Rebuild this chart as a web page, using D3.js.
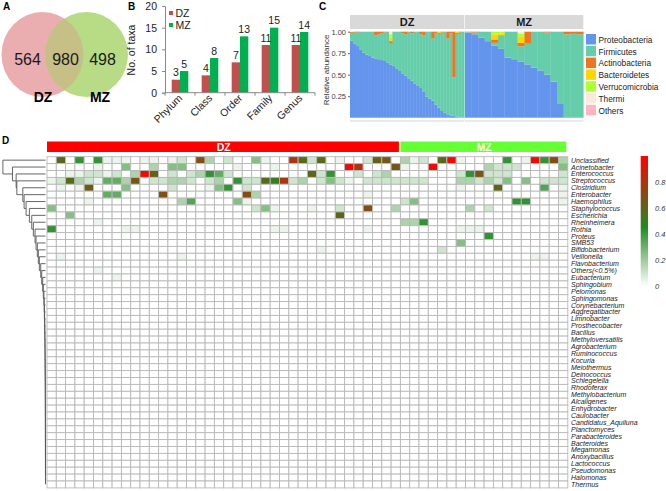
<!DOCTYPE html>
<html><head><meta charset="utf-8">
<script src="https://cdn.jsdelivr.net/npm/d3@7"></script>
<style>body{margin:0;background:#fff} svg{display:block;font-family:"Liberation Sans",Arial,sans-serif}</style>
</head><body><svg id="c" width="666" height="491"></svg>
<script>
// ---------- DATA ----------
const vennSets = ["DZ", "MZ"];
const vennCounts = [564, 980, 498]; // DZ only, shared, MZ only

const taxLevels = ["Phylum", "Class", "Order", "Family", "Genus"];
const taxaDZ = [3, 4, 7, 11, 11];
const taxaMZ = [5, 8, 13, 15, 14];
const taxaTicks = [0, 5, 10, 15, 20];

const phyla = ["Proteobacteria", "Firmicutes", "Actinobacteria", "Bacteroidetes", "Verrucomicrobia", "Thermi", "Others"];
const abundTicks = [0.25, 0.5, 0.75, 1.0];
const dzProteo = [0.895,0.864,0.833,0.795,0.756,0.733,0.717,0.70,0.69,0.68,0.67,0.66,0.643,0.62,0.60,0.574,0.543,0.515,0.49,0.457,0.43,0.40,0.37,0.345,0.30,0.245,0.22,0.198,0.155,0.116,0.078,0.058,0.039,0.027,0.019,0.012,0.004,0.0];
const dzFirm = [0.09,0.136,0.157,0.205,0.244,0.267,0.283,0.30,0.27,0.29,0.31,0.33,0.357,0.24,0.40,0.426,0.457,0.465,0.48,0.543,0.55,0.60,0.63,0.625,0.66,0.755,0.78,0.722,0.825,0.859,0.912,0.942,0.881,0.953,0.451,0.963,0.986,1.0];
const dzActino = [0.01,0,0.01,0,0,0,0,0,0.04,0.03,0.02,0.01,0,0.03,0,0,0,0.02,0.03,0,0.02,0,0,0.03,0.04,0,0,0.08,0.02,0.01,0.01,0,0.08,0.02,0.53,0.01,0.01,0];
const dzBact = [0.005,0,0,0,0,0,0,0,0,0,0,0,0,0.04,0,0,0,0,0,0,0,0,0,0,0,0,0,0,0,0.015,0,0,0,0,0,0.015,0,0];
const dzVerru = [0,0,0,0,0,0,0,0,0,0,0,0,0,0.04,0,0,0,0,0,0,0,0,0,0,0,0,0,0,0,0,0,0,0,0,0,0,0,0];
const dzThermi = [0,0,0,0,0,0,0,0,0,0,0,0,0,0.03,0,0,0,0,0,0,0,0,0,0,0,0,0,0,0,0,0,0,0,0,0,0,0,0];
const dzOthers = [0,0,0,0,0,0,0,0,0,0,0,0,0,0,0,0,0,0,0,0,0,0,0,0,0,0,0,0,0,0,0,0,0,0,0,0,0,0];
const mzProteo = [0.99,0.97,0.93,0.89,0.84,0.80,0.70,0.68,0.65,0.62,0.58,0.55,0.50,0.42,0.16,0,0,0];
const mzFirm = [0.005,0.02,0.07,0.11,0.03,0.16,0.30,0.32,0.18,0.24,0.42,0.45,0.49,0.58,0.84,0.97,0.975,0.97];
const mzActino = [0.005,0.01,0,0,0.04,0,0,0,0.04,0.14,0,0,0.01,0,0,0.03,0.025,0.03];
const mzBact = [0,0,0,0,0.06,0.02,0,0,0.07,0,0,0,0,0,0,0,0,0];
const mzVerru = [0,0,0,0,0.03,0.02,0,0,0.04,0,0,0,0,0,0,0,0,0];
const mzThermi = [0,0,0,0,0,0,0,0,0.02,0,0,0,0,0,0,0,0,0];
const mzOthers = [0,0,0,0,0,0,0,0,0,0,0,0,0,0,0,0,0,0];

const genera = ["Unclassified","Acinetobacter","Enterococcus","Streptococcus","Clostridium","Enterobacter","Haemophilus","Staphylococcus","Escherichia","Rheinheimera","Rothia","Proteus","SMB53","Bifidobacterium","Veillonella","Flavobacterium","Others(<0.5%)","Eubacterium","Sphingobium","Pelomonas","Sphingomonas","Corynebacterium","Aggregatibacter","Limnobacter","Prosthecobacter","Bacillus","Methyloversatilis","Agrobacterium","Ruminococcus","Kocuria","Meiothermus","Deinococcus","Schlegelella","Rhodoferax","Methylobacterium","Alcaligenes","Enhydrobacter","Caulobacter","Candidatus_Aquiluna","Planctomyces","Parabacteroides","Bacteroides","Megamonas","Anoxybacillus","Lactococcus","Pseudomonas","Halomonas","Thermus"];
const nDZ = 38, nMZ = 18;
// [genus row, sample column, relative abundance]; all other cells are 0
const heatCells = [
[0,1,.58],[0,3,.42],[0,5,.42],[0,6,.04],[0,7,.04],[0,8,.04],[0,10,.04],[0,11,.04],[0,13,.04],[0,14,.1],[0,16,.7],[0,17,.17],[0,19,.1],[0,22,.25],[0,23,.04],[0,26,.8],[0,27,.58],[0,28,.1],[0,29,.58],[0,31,.04],[0,34,.1],[0,35,.62],[0,36,.66],[0,38,.17],[0,39,.04],[0,40,.1],[0,42,.58],[0,43,.97],[0,44,.04],[0,49,.42],[0,51,.04],[0,52,.97],[0,53,.42],[0,54,.7],[0,55,.17],
[1,5,.04],[1,8,.25],[1,11,.17],[1,13,.25],[1,14,.25],[1,20,.04],[1,24,.04],[1,32,.97],[1,33,.8],[1,37,.66],[1,38,.04],[1,41,.97],[1,47,.17],[1,48,.1],[1,49,.1],[1,50,.1],[1,55,.25],
[2,2,.04],[2,3,.04],[2,4,.1],[2,5,.1],[2,6,.04],[2,7,.1],[2,9,.17],[2,10,.97],[2,11,.62],[2,13,.1],[2,15,.1],[2,16,.17],[2,17,.42],[2,18,.32],[2,19,.1],[2,28,.6],[2,29,.1],[2,30,.42],[2,33,.1],[2,35,.1],[2,36,.17],[2,44,.1],[2,45,.42],[2,46,.66],[2,47,.1],[2,48,.1],[2,49,.1],[2,55,.1],
[3,0,.04],[3,1,.1],[3,2,.58],[3,3,.17],[3,4,.1],[3,5,.04],[3,6,.32],[3,7,.32],[3,8,.17],[3,9,.66],[3,11,.1],[3,12,.1],[3,13,.17],[3,14,.17],[3,15,.1],[3,17,.1],[3,18,.17],[3,20,.42],[3,21,.1],[3,22,.1],[3,23,.58],[3,24,.5],[3,25,.8],[3,26,.1],[3,27,.17],[3,29,.1],[3,30,.25],[3,31,.1],[3,32,.04],[3,34,.1],[3,35,.1],[3,36,.1],[3,37,.1],[3,38,.1],[3,39,.1],[3,40,.1],[3,44,.17],[3,45,.17],[3,46,.1],[3,47,.17],[3,48,.1],[3,49,.25],[3,51,.25],[3,53,.1],[3,54,.1],[3,55,.1],
[4,1,.04],[4,3,.04],[4,4,.64],[4,8,.25],[4,13,.1],[4,17,.04],[4,18,.25],[4,19,.42],[4,21,.1],[4,44,.04],[4,48,.6],[4,53,.35],[4,55,.04],
[5,6,.32],[5,7,.32],[5,12,.68],[5,21,.7],[5,22,.17],[5,34,.04],[5,55,.04],
[6,4,.04],[6,14,.17],[6,15,.35],[6,20,.25],[6,21,.04],[6,38,.1],[6,39,.25],[6,50,.42],[6,51,.42],[6,55,.04],
[7,0,.25],[7,22,.1],[7,23,.25],[7,24,.04],[7,28,.04],[7,31,.1],[7,34,.7],[7,37,.17],[7,45,.17],[7,47,.1],
[8,2,.25],[8,31,.6],
[9,5,.04],[9,38,.17],[9,39,.17],[9,40,.42],
[10,0,.42],[10,8,.04],[10,9,.04],[10,24,.04],[10,25,.04],[10,34,.04],[10,44,.04],[10,45,.04],[10,46,.04],
[11,47,.42],[12,44,.25],[13,29,.04],[13,42,.1],
[14,1,.04],[14,14,.04],[14,52,.04],[14,53,.04],
[16,5,.04],[17,7,.04]
];
// merge heights of the row dendrogram (row i joins the cluster of rows below it)
const mergeHeights = [42.8,33.2,29.5,28.8,22.8,21.5,19.5,16.2,13.8,12.2,10.5,9.5,8.2,7.2,6.2,4.8,3.8,2.8,2.2,1.6,1.3,1.1,0.9,0.8,0.7,0.6,0.5,0.45,0.4,0.35,0.3,0.25,0.2,0.18,0.16,0.14,0.12,0.1,0.08,0.07,0.06,0.05,0.04,0.03,0.02,0.01,0.005];
const legendTicks = [0, 0.2, 0.4, 0.6, 0.8];

// ---------- DRAW ----------
const svg = d3.select("#c");
const font = "Liberation Sans, Arial, sans-serif";
function letter(t, x, y) {
  svg.append("text").attr("x", x).attr("y", y).attr("font-size", 10).attr("font-weight", "bold").text(t);
}
letter("A", 3, 10); letter("B", 128, 10); letter("C", 319, 10); letter("D", 2, 144);

// Panel A - Venn
const gA = svg.append("g");
const circ = [{cx: 42.5, cy: 54.5, rx: 41, ry: 42.5, fill: "#eaaeb1"}, {cx: 86.5, cy: 54.5, rx: 41.5, ry: 42.5, fill: "#b8dc86"}];
gA.selectAll("ellipse.v").data(circ).join("ellipse").attr("class", "v")
  .attr("cx", d => d.cx).attr("cy", d => d.cy).attr("rx", d => d.rx).attr("ry", d => d.ry).attr("fill", d => d.fill);
const defs = svg.append("defs");
defs.append("clipPath").attr("id", "clipDZ").append("ellipse")
  .attr("cx", circ[0].cx).attr("cy", circ[0].cy).attr("rx", circ[0].rx).attr("ry", circ[0].ry);
gA.append("ellipse").attr("clip-path", "url(#clipDZ)")
  .attr("cx", circ[1].cx).attr("cy", circ[1].cy).attr("rx", circ[1].rx).attr("ry", circ[1].ry).attr("fill", "#c6bf86");
const countX = [27.5, 65.5, 102.5];
gA.selectAll("text.cnt").data(vennCounts).join("text").attr("class", "cnt")
  .attr("x", (d, i) => countX[i]).attr("y", 65).attr("text-anchor", "middle").attr("font-size", 16).attr("fill", "#1a1a1a").text(d => d);
const setX = [43, 100];
gA.selectAll("text.set").data(vennSets).join("text").attr("class", "set")
  .attr("x", (d, i) => setX[i]).attr("y", 102).attr("text-anchor", "middle").attr("font-size", 14).attr("font-weight", "bold").text(d => d);

// Panel B - bars
const gB = svg.append("g");
const yB = d3.scaleLinear().domain([0, 20]).range([92.7, 6]);
const xB = d3.scaleBand().domain(taxLevels).range([165, 315]).paddingInner(0.445).paddingOuter(0.2225);
const x1B = d3.scaleBand().domain(["DZ", "MZ"]).range([0, xB.bandwidth()]);
const colB = {DZ: "#c0504d", MZ: "#00b050"};
const barsB = taxLevels.flatMap((t, i) => [{t, k: "DZ", v: taxaDZ[i]}, {t, k: "MZ", v: taxaMZ[i]}]);
gB.selectAll("rect").data(barsB).join("rect")
  .attr("x", d => xB(d.t) + x1B(d.k)).attr("width", x1B.bandwidth())
  .attr("y", d => yB(d.v)).attr("height", d => yB(0) - yB(d.v)).attr("fill", d => colB[d.k]);
gB.selectAll("text.val").data(barsB).join("text").attr("class", "val")
  .attr("x", d => xB(d.t) + x1B(d.k) + x1B.bandwidth() / 2).attr("y", d => yB(d.v) - 3.5)
  .attr("text-anchor", "middle").attr("font-size", 10.5).attr("fill", "#222").text(d => d.v);
const axY = gB.append("g").attr("transform", "translate(165,0)")
  .call(d3.axisLeft(yB).tickValues(taxaTicks).tickSize(3).tickPadding(5));
axY.selectAll("text").attr("font-size", 10.5).attr("fill", "#222").attr("font-family", font);
axY.selectAll("line,path").attr("stroke", "#888");
const stepB = xB.step();
const bounds = taxLevels.map(t => xB(t) - (stepB - xB.bandwidth()) / 2).concat([xB.range()[1]]);
gB.append("line").attr("x1", xB.range()[0]).attr("x2", xB.range()[1]).attr("y1", yB(0)).attr("y2", yB(0)).attr("stroke", "#888");
gB.selectAll("line.tk").data(bounds).join("line").attr("class", "tk")
  .attr("x1", d => d).attr("x2", d => d).attr("y1", yB(0)).attr("y2", yB(0) + 3).attr("stroke", "#888");
gB.selectAll("text.cat").data(taxLevels).join("text").attr("class", "cat")
  .attr("transform", t => `translate(${xB(t) + xB.bandwidth() / 2 + 3},${yB(0) + 6}) rotate(-45)`)
  .attr("text-anchor", "end").attr("font-size", 10.5).attr("fill", "#222").text(t => t);
gB.append("text").attr("transform", "translate(135,50) rotate(-90)").attr("text-anchor", "middle")
  .attr("font-size", 10.5).attr("fill", "#222").text("No. of taxa");
["DZ", "MZ"].forEach((k, i) => {
  gB.append("rect").attr("x", 169).attr("y", 11 + i * 12).attr("width", 4).attr("height", 4).attr("fill", colB[k]);
  gB.append("text").attr("x", 175.5).attr("y", 17 + i * 12).attr("font-size", 10.5).attr("fill", "#222").text(k);
});

// Panel C - stacked relative abundance
const gC = svg.append("g");
const phylumColors = d3.scaleOrdinal().domain(phyla)
  .range(["#6495ed", "#66cdaa", "#ee7621", "#ffd700", "#adff2f", "#fde9d9", "#ffb6c1"]);
const yC = d3.scaleLinear().domain([0, 1]).range([117.7, 31.7]);
const groupsC = [
  {name: "DZ", x0: 350, x1: 464.3, series: [dzProteo, dzFirm, dzActino, dzBact, dzVerru, dzThermi, dzOthers]},
  {name: "MZ", x0: 465, x1: 583.3, series: [mzProteo, mzFirm, mzActino, mzBact, mzVerru, mzThermi, mzOthers]}
];
groupsC.forEach(g => {
  const n = g.series[0].length;
  const rows = d3.range(n).map(i => { const o = {i}; phyla.forEach((p, j) => o[p] = g.series[j][i]); return o; });
  const st = d3.stack().keys(phyla)(rows);
  const x = d3.scaleBand().domain(d3.range(n)).range([g.x0, g.x1]);
  gC.append("rect").attr("x", g.x0).attr("y", 15).attr("width", g.x1 - g.x0).attr("height", 14).attr("fill", "#d9d9d9");
  gC.append("text").attr("x", (g.x0 + g.x1) / 2).attr("y", 26).attr("text-anchor", "middle")
    .attr("font-size", 11).attr("font-weight", "bold").attr("fill", "#1a1a1a").text(g.name);
  const gs = gC.append("g").selectAll("g").data(st).join("g").attr("fill", d => phylumColors(d.key));
  gs.selectAll("rect").data(d => d).join("rect")
    .attr("x", d => x(d.data.i)).attr("width", x.bandwidth() + 0.3)
    .attr("y", d => yC(d[1])).attr("height", d => Math.max(0, yC(d[0]) - yC(d[1])));
  gC.append("line").attr("x1", g.x0).attr("x2", g.x1).attr("y1", 121).attr("y2", 121).attr("stroke", "#e2e2e2").attr("stroke-width", 1.5);
});
const axC = gC.append("g").attr("transform", "translate(350,0)")
  .call(d3.axisLeft(yC).tickValues(abundTicks).tickSize(2).tickPadding(2).tickFormat(d3.format(".2f")));
axC.select(".domain").remove();
axC.selectAll("line").attr("stroke", "#666");
axC.selectAll("text").attr("font-size", 7.5).attr("fill", "#444").attr("font-family", font);
gC.append("text").attr("transform", "translate(329,70) rotate(-90)").attr("text-anchor", "middle")
  .attr("font-size", 8).attr("fill", "#333").text("Relative abundance");
const legC = gC.selectAll("g.leg").data(phyla).join("g").attr("class", "leg")
  .attr("transform", (d, i) => `translate(586,${39.5 + i * 11.8})`);
legC.append("rect").attr("x", 0).attr("y", -5.5).attr("width", 10).attr("height", 10.5).attr("fill", d => phylumColors(d));
legC.append("text").attr("x", 12.5).attr("y", 3.2).attr("font-size", 8.3).attr("fill", "#222").text(d => d);

// Panel D - heatmap
const gD = svg.append("g");
const samples = d3.range(nDZ).map(i => "DZ" + (i + 1)).concat(d3.range(nMZ).map(i => "MZ" + (i + 1)));
const xD = d3.scaleBand().domain(samples).range([47, 567.8]);
const yD = d3.scaleBand().domain(genera).range([156.7, 487.9]);
const heatColor = d3.scaleLinear().domain([0, 0.45, 1]).range(["#ffffff", "#228b22", "#ff0000"]).clamp(true);
const valMap = new Map(heatCells.map(c => [c[0] + "_" + c[1], c[2]]));
const allCells = [];
genera.forEach((g, r) => samples.forEach((s, c) => allCells.push({g, s, v: valMap.get(r + "_" + c) || 0})));
gD.selectAll("rect.cell").data(allCells).join("rect").attr("class", "cell")
  .attr("x", d => xD(d.s)).attr("y", d => yD(d.g)).attr("width", xD.bandwidth()).attr("height", yD.bandwidth())
  .attr("fill", d => heatColor(d.v)).attr("stroke", "#b8b8b8").attr("stroke-width", 0.9);
// group bars
const grp = [{name: "DZ", ids: samples.slice(0, nDZ), fill: "#ff0000"}, {name: "MZ", ids: samples.slice(nDZ), fill: "#66ff33"}];
grp.forEach(g => {
  const x0 = xD(g.ids[0]), x1 = xD(g.ids[g.ids.length - 1]) + xD.bandwidth();
  gD.append("rect").attr("x", x0).attr("y", 141.5).attr("width", x1 - x0 - 1.5).attr("height", 10.5).attr("fill", g.fill);
  gD.append("text").attr("x", (x0 + x1) / 2).attr("y", 150.5).attr("text-anchor", "middle")
    .attr("font-size", 10.5).attr("font-weight", "bold").attr("fill", "#fff").text(g.name);
});
// row labels
gD.selectAll("text.rl").data(genera).join("text").attr("class", "rl")
  .attr("x", 571).attr("y", d => yD(d) + yD.bandwidth() / 2 + 2.5)
  .attr("font-size", 7).attr("font-style", "italic").attr("fill", "#222").text(d => d);
// dendrogram
const xDen = d3.scaleLinear().domain([0, 43]).range([45.5, 2.7]);
const leafY = genera.map(g => yD(g) + yD.bandwidth() / 2);
const segs = [];
let node = {x: xDen(0), y: leafY[genera.length - 1]};
for (let i = genera.length - 2; i >= 0; i--) {
  const xi = xDen(mergeHeights[i]);
  segs.push([xi, leafY[i], xDen(0), leafY[i]]);
  segs.push([xi, node.y, node.x, node.y]);
  segs.push([xi, leafY[i], xi, node.y]);
  node = {x: xi, y: (leafY[i] + node.y) / 2};
}
gD.selectAll("line.den").data(segs).join("line").attr("class", "den")
  .attr("x1", d => d[0]).attr("y1", d => d[1]).attr("x2", d => d[2]).attr("y2", d => d[3])
  .attr("stroke", "#555").attr("stroke-width", 0.9);
// legend
const yLeg = d3.scaleLinear().domain([0, 1]).range([286, 156]);
const grad = defs.append("linearGradient").attr("id", "hg").attr("x1", 0).attr("y1", 1).attr("x2", 0).attr("y2", 0);
d3.range(0, 1.0001, 0.05).forEach(t => grad.append("stop").attr("offset", t).attr("stop-color", heatColor(t)));
gD.append("rect").attr("x", 640.7).attr("y", yLeg(1)).attr("width", 7.3).attr("height", yLeg(0) - yLeg(1)).attr("fill", "url(#hg)");
gD.selectAll("text.lt").data(legendTicks).join("text").attr("class", "lt")
  .attr("x", 655).attr("y", d => yLeg(d) + 2.5).attr("font-size", 7.5).attr("font-style", "italic").attr("fill", "#333")
  .text(d => d === 0 ? "0" : d3.format(".1f")(d));
</script></body></html>
